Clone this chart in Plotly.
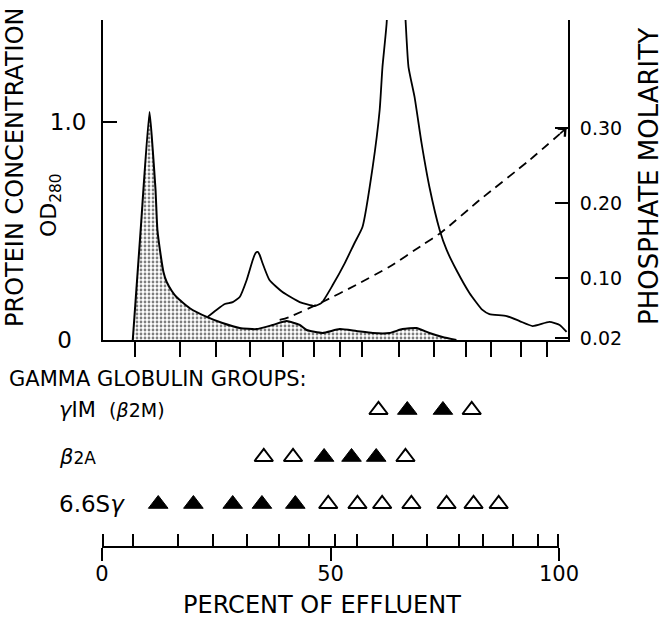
import plotly.graph_objects as go

W, H = 663, 621

# Fraction boundaries marked along the effluent axis (percent of effluent)
fraction_marks = [6.8, 16.6, 24.2, 31.7, 38.8, 45.3, 51.0, 55.7, 63.7, 71.2, 78.1, 83.4, 89.9, 95.4]

# Stippled component: protein OD280 vs percent of effluent
shaded_pct = [6.4, 8.1, 10.0, 10.7, 11.3, 11.7, 12.4, 13.0, 13.7, 14.8, 15.8, 18.6, 22.3,
              25.7, 29.4, 33.0, 36.5, 39.5, 42.3, 43.8, 47.2, 50.9, 54.5, 58.0, 61.6,
              64.4, 67.4, 70.2, 73.0, 76.0]
shaded_od = [0.0, 0.505, 1.046, 0.872, 0.688, 0.505, 0.390, 0.312, 0.266, 0.225, 0.197,
             0.147, 0.106, 0.078, 0.055, 0.050, 0.069, 0.087, 0.069, 0.046, 0.032, 0.050,
             0.041, 0.032, 0.032, 0.050, 0.055, 0.032, 0.014, 0.0]

# Total protein profile (main peak runs off scale)
total_pct = [22.5, 24.4, 26.2, 27.9, 29.4, 30.9, 32.2, 32.8, 33.3, 33.7, 34.3, 35.8, 38.6,
             42.3, 45.5, 47.0, 49.4, 52.0, 54.1, 55.8, 58.0, 59.5, 60.1, 61.0, 63.0, 65.1,
             65.7, 67.0, 68.5, 70.2, 72.4, 73.9, 76.0, 78.8, 81.6, 83.1, 86.8, 89.6, 92.4,
             96.0, 98.2, 99.7]
total_od = [0.106, 0.138, 0.165, 0.174, 0.197, 0.275, 0.367, 0.399, 0.404, 0.390, 0.353,
            0.275, 0.220, 0.174, 0.156, 0.170, 0.252, 0.353, 0.445, 0.518, 0.794, 1.055,
            1.252, 1.454, 2.4, 1.454, 1.252, 1.115, 0.904, 0.702, 0.505, 0.413, 0.321,
            0.216, 0.138, 0.119, 0.110, 0.087, 0.064, 0.083, 0.069, 0.037]

# Phosphate gradient (molarity)
gradient_pct = [38.0, 40.1, 47.2, 54.5, 61.6, 68.7, 72.8, 81.0, 91.7, 99.7]
gradient_molar = [0.044, 0.048, 0.068, 0.091, 0.115, 0.144, 0.161, 0.204, 0.257, 0.300]

# Gamma globulin groups found in fractions (filled = present strongly, open = present)
groups = ["6.6Sγ", "β2A", "γIM"]
group_labels = ["<span style='font-size:23px'>6.6S<i>γ</i></span>",
                "<i>β</i><span style='font-size:17px'>2A</span>",
                "<i>γ</i>IM\u00a0\u00a0<span style='font-size:19px'>(<i>β</i>2M)</span>"]
filled_pos = {
    "γIM": [66.8, 74.6],
    "β2A": [48.6, 54.6, 60.0],
    "6.6Sγ": [12.3, 20.0, 28.6, 35.0, 42.3],
}
open_pos = {
    "γIM": [60.5, 80.9],
    "β2A": [35.4, 41.8, 66.4],
    "6.6Sγ": [49.5, 55.9, 61.3, 67.7, 75.4, 81.3, 86.8],
}

FONT = "DejaVu Sans"
INK = "black"


def fx(px):
    return px / W


def fy(py):
    return 1 - py / H


fig = go.Figure()

fig.add_trace(go.Scatter(
    x=shaded_pct, y=shaded_od, mode="lines", fill="tozeroy",
    line=dict(color=INK, width=2, shape="spline", smoothing=0.5),
    fillcolor="white",
    fillpattern=dict(shape=".", size=4, solidity=0.38, fgcolor=INK, bgcolor="white"),
    xaxis="x", yaxis="y", showlegend=False, hoverinfo="skip",
))
fig.add_trace(go.Scatter(
    x=total_pct, y=total_od, mode="lines",
    line=dict(color=INK, width=1.8, shape="spline", smoothing=0.5),
    xaxis="x", yaxis="y", showlegend=False, hoverinfo="skip",
))
fig.add_trace(go.Scatter(
    x=gradient_pct, y=gradient_molar, mode="lines",
    line=dict(color=INK, width=1.8, dash="9px,6px", shape="spline", smoothing=0.6),
    xaxis="x", yaxis="y2", showlegend=False, hoverinfo="skip",
))

for g in groups:
    fig.add_trace(go.Scatter(
        x=filled_pos[g], y=[g] * len(filled_pos[g]), mode="markers",
        marker=dict(symbol="triangle-up", size=17, color=INK, line=dict(color=INK, width=1)),
        xaxis="x2", yaxis="y3", showlegend=False, hoverinfo="skip",
    ))
    fig.add_trace(go.Scatter(
        x=open_pos[g], y=[g] * len(open_pos[g]), mode="markers",
        marker=dict(symbol="triangle-up", size=16, color="white", line=dict(color=INK, width=2)),
        xaxis="x2", yaxis="y3", showlegend=False, hoverinfo="skip",
    ))

axis_common = dict(showgrid=False, zeroline=False, linecolor=INK, linewidth=2,
                   tickcolor=INK, tickwidth=2, automargin=False)

annotations = [
    dict(text="PROTEIN CONCENTRATION", x=fx(15), y=fy(167), textangle=-90,
         font=dict(size=24)),
    dict(text="OD<sub>280</sub>", x=fx(50), y=fy(205), textangle=-90, font=dict(size=22)),
    dict(text="PHOSPHATE MOLARITY", x=fx(649), y=fy(177), textangle=-90,
         font=dict(size=26)),
    dict(text="GAMMA GLOBULIN GROUPS:", x=fx(7), y=fy(379), xanchor="left",
         font=dict(size=21)),
    dict(text="PERCENT OF EFFLUENT", x=fx(322), y=fy(605), font=dict(size=24)),
]
for a in annotations:
    a.update(xref="paper", yref="paper", showarrow=False, yanchor="middle")
    a.setdefault("xanchor", "center")
    a["font"].update(family=FONT, color=INK)

for g, lab in zip(groups, group_labels):
    annotations.append(dict(text=lab, x=fx(57), xref="paper", y=g, yref="y3",
                            xanchor="left", yanchor="middle", showarrow=False,
                            font=dict(family=FONT, size=21, color=INK)))

# open arrowhead where the gradient meets the right axis
annotations.append(dict(x=gradient_pct[-1], y=gradient_molar[-1], xref="x", yref="y2",
                        ax=-8, ay=7, showarrow=True, arrowhead=4, arrowsize=1.3,
                        arrowwidth=1.6, arrowcolor=INK, text="", standoff=0))

fig.update_layout(
    width=W, height=H,
    margin=dict(l=0, r=0, t=0, b=0, autoexpand=False),
    paper_bgcolor="white", plot_bgcolor="white",
    font=dict(family=FONT, color=INK),
    xaxis=dict(domain=[fx(103), fx(568)], range=[0, 100], anchor="y",
               showline=True, tickmode="array", tickvals=fraction_marks,
               ticks="outside", ticklen=15, showticklabels=False, **axis_common),
    yaxis=dict(domain=[fy(340), fy(20)], range=[0, 1.468], anchor="x",
               showline=True, tickmode="array", tickvals=[0, 1.0],
               ticktext=["0\u00a0\u00a0", "1.0"], ticks="inside", ticklen=14,
               ticklabelstandoff=10, tickfont=dict(family=FONT, color=INK, size=23),
               **axis_common),
    yaxis2=dict(overlaying="y", side="right", anchor="x", range=[0.0173, 0.444],
                showline=True, tickmode="array", tickvals=[0.02, 0.10, 0.20, 0.30],
                ticktext=["0.02", "0.10", "0.20", "0.30"], ticks="inside", ticklen=13,
                ticklabelstandoff=6, tickfont=dict(family=FONT, color=INK, size=19),
                **axis_common),
    xaxis2=dict(domain=[fx(102), fx(559)], range=[0, 100], anchor="free",
                position=fy(547), showline=True, tickmode="array",
                tickvals=[0, 50, 100], ticks="outside", ticklen=13,
                minor=dict(tickmode="array", tickvals=[0.15] + fraction_marks + [99.85],
                           ticks="inside", ticklen=12, tickwidth=2, tickcolor=INK),
                ticklabelstandoff=-5, tickfont=dict(family=FONT, color=INK, size=21),
                **axis_common),
    yaxis3=dict(domain=[fy(527.5), fy(386.5)], anchor="x2", type="category",
                categoryarray=groups, range=[-0.5, 2.5], visible=False),
    annotations=annotations,
)

fig.write_html("out.html")
